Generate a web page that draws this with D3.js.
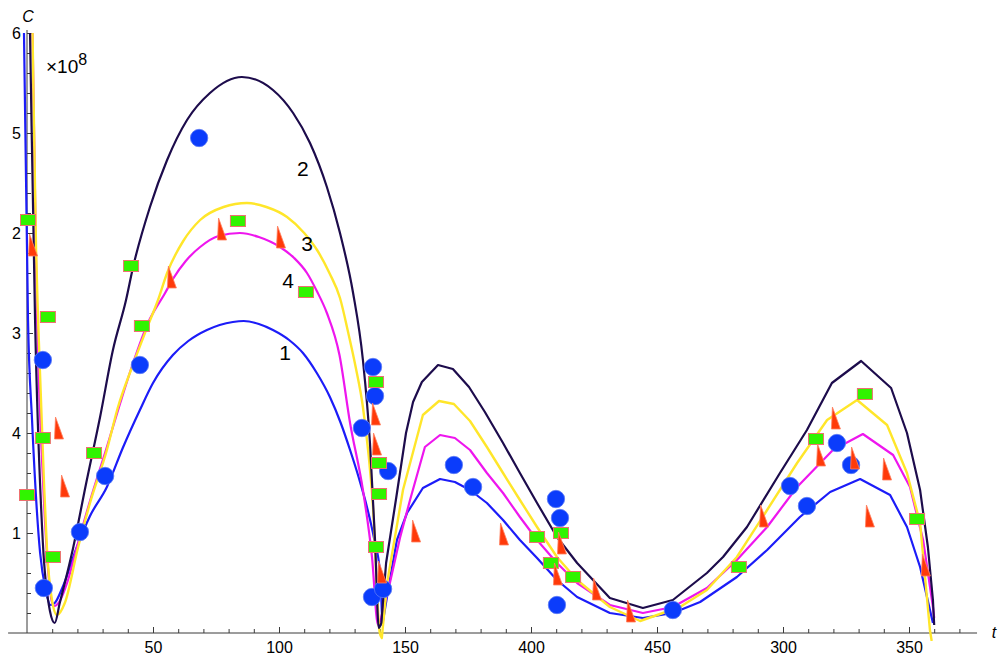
<!DOCTYPE html>
<html>
<head>
<meta charset="utf-8">
<script src="https://cdn.jsdelivr.net/npm/d3@7"></script>
<style>
body { margin: 0; background: #fff; }
text { font-family: "Liberation Sans", Arial, sans-serif; fill: #000; }
</style>
</head>
<body>
<svg id="chart" width="998" height="655"></svg>
<script>
// curve 1 (blue)
var curve1 = [[-1.6,7],[-1.2,6],[0.4,3.13],[2.0,2.13],[5.2,0.8],[7.5,0.42],[9.3,0.28],[11,0.3],[14,0.45],[19.8,0.86],
  [25,1.17],[31.7,1.46],[38,1.85],[44.8,2.23],[50,2.5],[57.9,2.78],[64,2.92],[71.4,3.03],[81.7,3.11],[86,3.12],
  [92,3.09],[97.6,3.03],[104,2.93],[109.5,2.8],[115,2.6],[120.2,2.36],[124.5,2.1],[128.2,1.83],[131.7,1.55],
  [134.9,1.26],[137.7,0.95],[140.1,0.6],[141,0.08],[143.3,0.43],[146.8,0.93],[150.8,1.2],[157.1,1.45],[163.9,1.54],
  [169.8,1.51],[175.8,1.43],[182.5,1.30],[188.9,1.13],[195.6,0.93],[202.4,0.75],[210.3,0.53],[218.3,0.36],
  [231.3,0.20],[244.4,0.15],[256.3,0.20],[267.1,0.31],[281.7,0.56],[293.7,0.83],[306.7,1.16],[318.7,1.41],
  [330.6,1.54],[342.5,1.38],[349.2,1.06],[354.4,0.66],[359.5,0.10]];
// curve 2 (dark)
var curve2 = [[-0.5,8.5],[1.2,6],[3.2,3.13],[6.3,0.9],[9.1,0.22],[11,0.1],[13,0.3],[18.3,0.85],[23.5,1.5],[29,2.16],
  [34.1,2.83],[39.3,3.33],[42.1,3.66],[48.8,4.26],[55.6,4.73],[63.5,5.13],[72.6,5.40],[85.3,5.56],[97.6,5.43],
  [105.6,5.20],[112.3,4.90],[119,4.46],[124.2,4.0],[129.4,3.40],[133.3,2.73],[136.1,1.9],[138.1,0.93],[139.6,0.05],
  [140.6,0.1],[142.5,0.70],[146.5,1.35],[150.4,2.0],[153.2,2.31],[156.7,2.51],[163.1,2.68],[169.0,2.64],[175.4,2.46],
  [181.7,2.21],[188.9,1.90],[195.6,1.60],[202.4,1.30],[210.3,0.96],[218.3,0.70],[231.3,0.35],[244.4,0.25],
  [256.3,0.33],[269.8,0.60],[276.2,0.76],[285.7,1.06],[298.8,1.60],[309.5,2.03],[319.4,2.50],[331.0,2.72],
  [342.9,2.45],[349.2,2.0],[354.4,1.43],[357.5,0.86],[359.5,0.33],[360,0.08]];
// curve 3 (yellow)
var curve3 = [[-0.5,9],[2.2,6],[3.6,3.83],[4.4,3.13],[6.7,1.53],[7.9,0.85],[9.9,0.33],[11.9,0.18],[15,0.3],[20.2,0.85],
  [25,1.3],[31.7,1.83],[36,2.25],[41.7,2.66],[47.6,3.05],[52,3.33],[55.6,3.6],[62,3.92],[68.7,4.13],[78,4.26],
  [87.3,4.30],[95,4.26],[103.2,4.16],[110,4.0],[115.1,3.83],[120,3.6],[124.2,3.35],[127.5,3.0],[130.5,2.65],
  [133.3,2.26],[137.3,1.26],[140,0],[140.8,-0.05],[142.9,0.5],[149.2,1.43],[157.1,2.18],[163.5,2.32],[169.4,2.29],
  [175.8,2.12],[182.5,1.86],[188.9,1.60],[195.6,1.33],[202.4,1.06],[210.3,0.76],[218.3,0.53],[231.3,0.26],
  [243.3,0.12],[259.1,0.26],[269.8,0.43],[281.7,0.76],[293.7,1.23],[305.6,1.70],[317.5,2.13],[329.4,2.33],
  [341.3,2.08],[349.2,1.60],[354.4,1.10],[358.3,0.03],[359,-0.08]];
// curve 4 (magenta)
var curve4 = [[-0.5,9],[2.2,6],[3.8,3.4],[6.4,1.5],[7.9,0.8],[9.8,0.32],[10.8,0.27],[13,0.32],[15.9,0.5],[19.8,0.86],
  [25,1.32],[31.7,1.86],[37,2.3],[42.1,2.7],[48,3.1],[54.8,3.4],[57.9,3.54],[63,3.72],[68.7,3.86],[76,3.97],
  [84.5,4.0],[92,3.96],[100.4,3.86],[106,3.75],[111.1,3.6],[115,3.42],[119,3.2],[124,2.78],[128.2,2.1],[133.3,1.43],
  [136.9,0.76],[139.3,0.08],[140.5,0.15],[144,0.5],[148,0.95],[152,1.33],[157.9,1.86],[163.9,1.98],[169.8,1.95],
  [175.8,1.83],[182.5,1.60],[188.9,1.40],[195.6,1.16],[202.4,0.93],[210.3,0.70],[218.3,0.50],[231.3,0.28],
  [244.4,0.20],[256.3,0.26],[269.8,0.45],[281.7,0.73],[293.7,1.06],[305.6,1.46],[319.8,1.83],[331.7,1.99],
  [343.7,1.78],[350.4,1.46],[355.6,0.93],[359.5,0.26],[360,0.15]];

// measured points
var circlePts = [[6.7,0.45],[6.3,2.73],[21.0,1.01],[31.0,1.57],[44.8,2.68],[68.3,4.95],[137.3,2.66],[138.1,2.37],
  [132.9,2.05],[143.3,1.62],[136.9,0.36],[141.3,0.44],[169.4,1.68],[177.0,1.46],[209.9,1.34],[211.5,1.15],
  [210.3,0.28],[256.3,0.23],[302.8,1.47],[309.5,1.27],[321.4,1.90],[327.0,1.68]];
var squarePts = [[0.4,4.13],[8.3,3.16],[41.3,3.67],[45.6,3.07],[6.3,1.95],[0.0,1.38],[10.3,0.76],[26.6,1.80],
  [83.7,4.12],[110.7,3.41],[138.5,2.51],[139.7,1.70],[139.7,1.39],[138.5,0.86],[202.4,0.96],[211.9,1.00],
  [207.9,0.70],[216.7,0.56],[282.5,0.66],[313.1,1.94],[332.5,2.39],[353.2,1.14]];
var trianglePts = [[2.4,3.88],[12.7,2.05],[15.1,1.47],[57.5,3.56],[77.4,4.04],[100.8,3.96],[138.5,2.19],[138.9,1.89],
  [140.9,0.61],[154.4,1.02],[189.3,0.99],[212.3,0.90],[210.7,0.59],[226.2,0.44],[239.7,0.22],[292.5,1.17],
  [315.1,1.78],[321.0,2.15],[328.6,1.75],[341.3,1.64],[334.5,1.17],[356.7,0.68]];

// tick labels as printed
var xTicks = [50, 100, 150, 200, 250, 300, 350];
var xTickLabels = ["50", "100", "150", "400", "450", "300", "350"];
var yTicks = [1, 2, 3, 4, 5, 6];
var yTickLabels = ["1", "4", "3", "2", "5", "6"];

var curveLabels = [
  {text: "2", t: 109.5, c: 4.65},
  {text: "3", t: 111.1, c: 3.90},
  {text: "4", t: 103.6, c: 3.53},
  {text: "1", t: 102.4, c: 2.81}
];

var svg = d3.select("#chart");

var x = d3.scaleLinear().domain([0, 380]).range([27, 27 + 380 * 2.52]);
var y = d3.scaleLinear().domain([0, 6]).range([633, 33]);

// clip for curves
svg.append("defs").append("clipPath").attr("id", "plotclip")
  .append("rect")
  .attr("x", x(-8)).attr("y", y(6))
  .attr("width", x(378) - x(-8)).attr("height", y(-0.08) - y(6));

// axes
var axisColor = "#3a3a3a";

var xMinor = svg.append("g").attr("transform", "translate(0," + y(0) + ")")
  .call(d3.axisBottom(x).tickValues(d3.range(10, 380, 10)).tickSize(-4).tickFormat(""));
var xMajor = svg.append("g").attr("transform", "translate(0," + y(0) + ")")
  .call(d3.axisBottom(x).tickValues(xTicks).tickSize(-6).tickPadding(9)
    .tickFormat((d, i) => xTickLabels[i]));
var yMinor = svg.append("g").attr("transform", "translate(" + x(0) + ",0)")
  .call(d3.axisLeft(y).tickValues(d3.range(0.2, 6.01, 0.2)).tickSize(-4).tickFormat(""));
var yMajor = svg.append("g").attr("transform", "translate(" + x(0) + ",0)")
  .call(d3.axisLeft(y).tickValues(yTicks).tickSize(-6).tickPadding(6)
    .tickFormat((d, i) => yTickLabels[i]));

[xMinor, xMajor, yMinor, yMajor].forEach(g => {
  g.select(".domain").remove();
  g.selectAll(".tick line").attr("stroke", axisColor);
  g.selectAll(".tick text").style("font-size", "16px")
    .style("font-family", "'Liberation Sans', Arial, sans-serif").attr("fill", "#000");
});
yMajor.selectAll(".tick text").attr("dy", "0.34em");

svg.append("line")
  .attr("x1", x(-7.5)).attr("x2", x(377))
  .attr("y1", y(0)).attr("y2", y(0))
  .attr("stroke", axisColor).attr("stroke-width", 1);
svg.append("line")
  .attr("x1", x(0)).attr("x2", x(0))
  .attr("y1", y(6.03)).attr("y2", y(0))
  .attr("stroke", axisColor).attr("stroke-width", 1);

// axis titles
svg.append("text").attr("x", x(0) + 1).attr("y", 22)
  .attr("text-anchor", "middle").style("font-style", "italic").style("font-size", "16px").text("C");
svg.append("text").attr("x", 994).attr("y", 638)
  .attr("text-anchor", "middle").style("font-style", "italic").style("font-size", "16px").text("t");

var mult = svg.append("text").attr("x", 46).attr("y", 73).style("font-size", "19px");
mult.append("tspan").text("\u00d710");
mult.append("tspan").attr("dy", -8).style("font-size", "16px").text("8");

// curves: smooth first cycle, sampled polyline afterwards
var smooth = d3.line().x(d => x(d[0])).y(d => y(d[1])).curve(d3.curveMonotoneX);
var poly = d3.line().x(d => x(d[0])).y(d => y(d[1]));
function curvePath(data) {
  let i = data.findIndex(d => d[0] > 141.5);
  return smooth(data.slice(0, i)) + poly(data.slice(i - 1)).replace(/^M/, "L");
}
var curves = [
  {data: curve1, color: "#1c1cf8", w: 2.2},
  {data: curve4, color: "#ee16ee", w: 2.2},
  {data: curve3, color: "#ffe62a", w: 2.4},
  {data: curve2, color: "#1d0c4c", w: 2.2}
];
var gCurves = svg.append("g").attr("clip-path", "url(#plotclip)");
gCurves.selectAll("path")
  .data(curves)
  .join("path")
  .attr("d", d => curvePath(d.data))
  .attr("fill", "none")
  .attr("stroke", d => d.color)
  .attr("stroke-width", d => d.w)
  .attr("stroke-linejoin", "round");

// markers
svg.append("g").selectAll("circle")
  .data(circlePts)
  .join("circle")
  .attr("cx", d => x(d[0]))
  .attr("cy", d => y(d[1]))
  .attr("r", 8.7)
  .attr("fill", "#0b3cfb")
  .attr("stroke", "#5a78f5")
  .attr("stroke-width", 0.8);

svg.append("g").selectAll("rect")
  .data(squarePts)
  .join("rect")
  .attr("x", d => x(d[0]) - 7.5)
  .attr("y", d => y(d[1]) - 5.5)
  .attr("width", 15)
  .attr("height", 11)
  .attr("fill", "#30f400")
  .attr("stroke", "#ee7070")
  .attr("stroke-width", 1);

svg.append("g").selectAll("path")
  .data(trianglePts)
  .join("path")
  .attr("d", d => {
    let cx = x(d[0]), cy = y(d[1]);
    return "M" + (cx - 4.5) + "," + (cy + 11) + "L" + (cx - 3.5) + "," + (cy - 11) +
      "L" + (cx + 4.5) + "," + (cy + 11) + "Z";
  })
  .attr("fill", "#ff3a0a")
  .attr("stroke", "#ff8060")
  .attr("stroke-width", 0.8);

// curve number labels
svg.append("g").selectAll("text")
  .data(curveLabels)
  .join("text")
  .attr("x", d => x(d.t))
  .attr("y", d => y(d.c))
  .attr("text-anchor", "middle")
  .attr("dy", "0.36em")
  .style("font-size", "21px")
  .text(d => d.text);
</script>
</body>
</html>
